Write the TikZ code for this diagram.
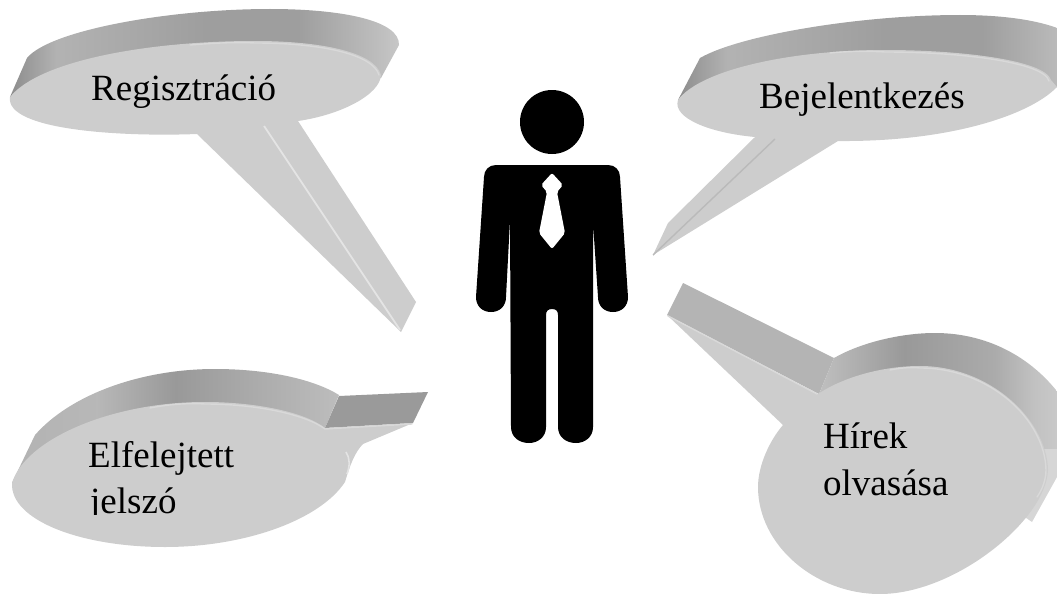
\documentclass[tikz,border=0pt]{standalone}
\usepackage{fontspec}
\setmainfont{Liberation Serif}
\definecolor{faceg}{HTML}{CDCDCD}
\definecolor{rimg}{HTML}{D9D9D9}
\definecolor{lineg}{HTML}{E4E4E4}
\definecolor{tailg}{HTML}{9A9A9A}
\definecolor{tailh}{HTML}{B4B4B4}
\pgfdeclarehorizontalshading{sideA}{100bp}{color(0bp)=(black!45);color(25bp)=(black!45);color(31bp)=(black!30);color(50bp)=(black!38);color(62bp)=(black!38);color(72bp)=(black!26);color(75bp)=(black!22);color(100bp)=(black!22)}
\pgfdeclarehorizontalshading{sideC}{100bp}{color(0bp)=(black!30);color(25bp)=(black!30);color(38bp)=(black!28);color(50bp)=(black!40);color(62bp)=(black!33);color(75bp)=(black!26);color(100bp)=(black!26)}
\pgfdeclarehorizontalshading{sideD}{100bp}{color(0bp)=(black!25);color(25bp)=(black!25);color(42bp)=(black!40);color(60bp)=(black!33);color(68bp)=(black!24);color(75bp)=(black!20);color(100bp)=(black!20)}
\tikzset{
  face/.style={fill=faceg,draw=none},
  rim/.style={draw=rimg,line width=1.4pt,line cap=round},
  crease/.style={draw=lineg,line width=1.8pt},
  label/.style={anchor=base west,inner sep=0pt,text=black,font=\fontsize{37}{37}\selectfont},
  figure/.style={fill=black,draw=none},
  lowside/.style={fill=black!16,draw=none}
}
\begin{document}
\begin{tikzpicture}[x=1pt,y=-1pt]
\useasboundingbox (0,0) rectangle (1057,594);
% Regisztracio
\shade[shading=sideA] (10,97) -- (27,58) .. controls (50,30) and (170,9) .. (270,9) .. controls (340,9) and (400,20) .. (399,45) -- (381,78) -- (300,100) -- cycle;
\path[face] (10,97) .. controls (40,60) and (150,41) .. (255,41) .. controls (320,41) and (375,52) .. (381,75) .. controls (380,95) and (340,115) .. (298,121) -- (416,302) -- (401,332) -- (197,134) .. controls (120,137) and (5,130) .. (10,97) -- cycle;
\draw[rim] (190,45) .. controls (215,43) and (235,42) .. (255,43) .. controls (320,43) and (373,54) .. (379,75);
\draw[crease] (264,126) -- (400,330);
\node[label] (reg) at (91,100) {Regisztráció};
% Bejelentkezes
\begin{scope}
\clip (0,0) rectangle (1057,594);
\shade[shading=sideA] (678,100) -- (700,58) .. controls (740,35) and (860,15) .. (960,15) .. controls (1010,15) and (1070,22) .. (1090,50) -- (1057,87) -- (1030,90) -- cycle;
\path[face] (678,100) .. controls (700,70) and (790,50) .. (885,50) .. controls (960,50) and (1045,60) .. (1051,80) -- (1057,87) .. controls (1030,115) and (950,142) .. (838,141) -- (653,255) -- (668,223) -- (755,137) .. controls (710,133) and (672,118) .. (678,100) -- cycle;
\draw[rim] (830,53) .. controls (850,51) and (870,51) .. (885,52) .. controls (960,52) and (1044,62) .. (1049,81);
\draw[draw=black!27,line width=1.4pt] (775,139) -- (653,255);
\end{scope}
\node[label] (bej) at (759,108) {Bejelentkezés};
% Elfelejtett jelszo
\shade[shading=sideC] (12,483) -- (35,435) .. controls (70,395) and (140,369) .. (215,369) .. controls (270,369) and (315,380) .. (339,395) -- (325,428) -- (200,440) -- cycle;
\path[fill=tailg] (339,396) -- (428,392) -- (413,423) -- (325,428) -- cycle;
\path[face] (12,483) .. controls (25,440) and (110,402) .. (205,402) .. controls (255,402) and (305,412) .. (325,428) -- (413,423) -- (363,444) .. controls (355,452) and (350,465) .. (345,482) .. controls (320,520) and (245,547) .. (165,547) .. controls (80,547) and (10,520) .. (12,483) -- cycle;
\draw[rim] (150,408) .. controls (170,404) and (190,403) .. (205,404) .. controls (255,404) and (305,414) .. (325,429) -- (412,424);
\draw[draw=lineg,line width=1.6pt] (346,452) .. controls (350,458) and (350,466) .. (347,474);
\node[label] (elf) at (88,467) {Elfelejtett};
\begin{scope}
\clip (0,0) rectangle (1057,514);
\node[label] (jel) at (90,513) {jelszó};
\end{scope}
% Hirek olvasasa
\begin{scope}
\clip (0,0) rectangle (1057,594);
\path[fill=tailh] (683,283) -- (667,315) -- (819,394) -- (834,358) -- cycle;
\shade[shading=sideD] (819,394) -- (834,358) .. controls (860,343) and (900,333) .. (935,333) .. controls (990,333) and (1040,360) .. (1070,410) -- (1070,450) -- (1000,450) -- (1000,420) -- cycle;
\path[lowside] (1000,449) -- (1070,449) -- (1057,477) -- (1032,522) -- (1000,500) -- cycle;
\path[face] (667,315) -- (818,394) .. controls (845,376) and (885,366) .. (920,366) .. controls (990,366) and (1047,420) .. (1048,470) .. controls (1046,520) and (955,594) .. (880,594) .. controls (815,594) and (758,545) .. (758,487) .. controls (758,465) and (770,440) .. (783,425) -- cycle;
\draw[rim] (668,316) -- (817,394);
\draw[rim] (890,370) .. controls (900,368) and (910,367) .. (920,368) .. controls (990,368) and (1045,420) .. (1046,470) .. controls (1046,480) and (1042,490) .. (1037,497);
\end{scope}
\node[label] (hir) at (823,448) {Hírek};
\node[label] (olv) at (823,495) {olvasása};
% Person
\fill[figure] (552,122) circle[radius=32];
\path[figure] (496,165) -- (608,165) .. controls (615,165) and (620,170) .. (620,177) -- (628,297) .. controls (628,306) and (622,312) .. (613,312) .. controls (604,312) and (598,306) .. (598,297) -- (593,223) -- (593,427) .. controls (593,437) and (585,443) .. (576,443) .. controls (566,443) and (558,437) .. (558,427) -- (558,315) .. controls (558,311) and (556,309) .. (552,309) .. controls (548,309) and (546,311) .. (546,315) -- (546,427) .. controls (546,437) and (538,443) .. (529,443) .. controls (519,443) and (511,437) .. (511,427) -- (510,220) -- (506,297) .. controls (506,306) and (500,312) .. (491,312) .. controls (482,312) and (476,306) .. (476,297) -- (484,177) .. controls (484,170) and (489,165) .. (496,165) -- cycle;
\path[fill=white,rounded corners=2pt] (552,173) -- (563,185) -- (557,192) -- (565,233) -- (552,249) -- (539,233) -- (547,192) -- (541,185) -- cycle;
\end{tikzpicture}
\end{document}
